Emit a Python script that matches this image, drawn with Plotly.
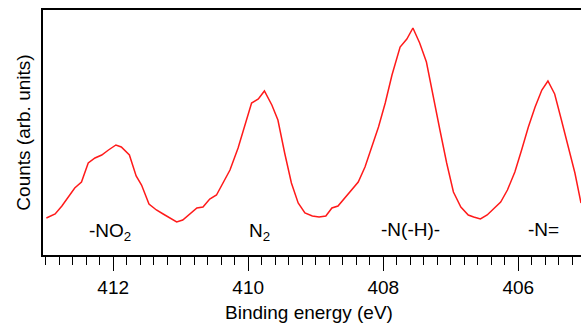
import plotly.graph_objects as go

energy = [412.99, 412.86, 412.76, 412.67, 412.57, 412.47, 412.37, 412.27, 412.17, 412.07,
          411.96, 411.88, 411.76, 411.66, 411.58, 411.47, 411.36, 411.26, 411.16, 411.06,
          410.97, 410.87, 410.76, 410.67, 410.57, 410.47, 410.37, 410.27, 410.15, 410.05,
          409.95, 409.85, 409.76, 409.65, 409.56, 409.46, 409.36, 409.26, 409.16, 409.05,
          408.95, 408.85, 408.76, 408.67, 408.57, 408.47, 408.37, 408.27, 408.17, 408.07,
          407.97, 407.87, 407.75, 407.65, 407.56, 407.46, 407.36, 407.26, 407.16, 407.06,
          406.96, 406.85, 406.74, 406.66, 406.56, 406.46, 406.36, 406.26, 406.16, 406.05,
          405.95, 405.85, 405.75, 405.65, 405.56, 405.46, 405.36, 405.26, 405.16, 405.07]
counts = [37, 41, 49, 57, 67, 73, 92, 97, 100, 105,
          110, 108, 100, 79, 70, 51, 45, 41, 37, 33,
          35, 41, 47, 48, 56, 60, 73, 85, 107, 130,
          152, 156, 164, 150, 135, 102, 72, 52, 42, 39,
          38, 39, 47, 49, 57, 65, 73, 88, 107, 128,
          152, 180, 208, 216, 227, 212, 193, 158, 125, 92,
          63, 48, 40, 38, 36, 40, 47, 53, 65, 83,
          105, 128, 148, 165, 174, 161, 135, 108, 82, 52]

peak_labels = ["-NO<sub>2</sub>", "N<sub>2</sub>", "-N(-H)-", "-N="]
peak_x = [412.05, 409.83, 407.59, 405.63]
peak_y = [23, 23, 26, 26]

tick_vals = [412, 410, 408, 406]
tick_text = ["412", "410", "408", "406"]

x_title = "Binding energy (eV)"
y_title = "Counts (arb. units)"

FONT = "Liberation Sans, Arial, sans-serif"

fig = go.Figure()
fig.add_trace(go.Scatter(x=energy, y=counts, mode="lines",
                         line=dict(color="#ff1a1a", width=1.5),
                         showlegend=False, hoverinfo="skip"))

for t, x, y in zip(peak_labels, peak_x, peak_y):
    fig.add_annotation(x=x, y=y, text=t, showarrow=False,
                       font=dict(family=FONT, size=19, color="black"),
                       xanchor="center", yanchor="middle")

# x-axis title placed lower than Plotly's default position (partly cut at the bottom edge, as in the reference)
fig.add_annotation(x=409.1, xref="x", y=-0.236, yref="paper", text=x_title,
                   showarrow=False, xanchor="center", yanchor="middle",
                   font=dict(family=FONT, size=19, color="black"))

fig.update_layout(
    width=581, height=323,
    margin=dict(l=43, r=0, t=10, b=68),
    paper_bgcolor="white", plot_bgcolor="white",
    font=dict(family=FONT, size=19, color="black"),
    xaxis=dict(
        range=[413.04, 405.07],
        showline=True, linecolor="black", linewidth=1.5, mirror=True,
        showgrid=False, zeroline=False,
        tickmode="array", tickvals=tick_vals, ticktext=tick_text,
        ticks="outside", ticklen=14, tickwidth=1, tickcolor="black",
        minor=dict(dtick=0.2, tick0=412, ticks="outside", ticklen=8,
                   tickwidth=1, tickcolor="black", showgrid=False),
        tickfont=dict(family=FONT, size=19, color="black"),
    ),
    yaxis=dict(
        range=[0, 245],
        showline=True, linecolor="black", linewidth=1.5,
        showgrid=False, zeroline=False, showticklabels=False, ticks="",
        title=dict(text=y_title, standoff=6,
                   font=dict(family=FONT, size=19, color="black")),
    ),
)

fig.write_html("out.html", config={"displayModeBar": False},
               post_script="document.body.style.margin='0';document.body.style.overflow='hidden';")
